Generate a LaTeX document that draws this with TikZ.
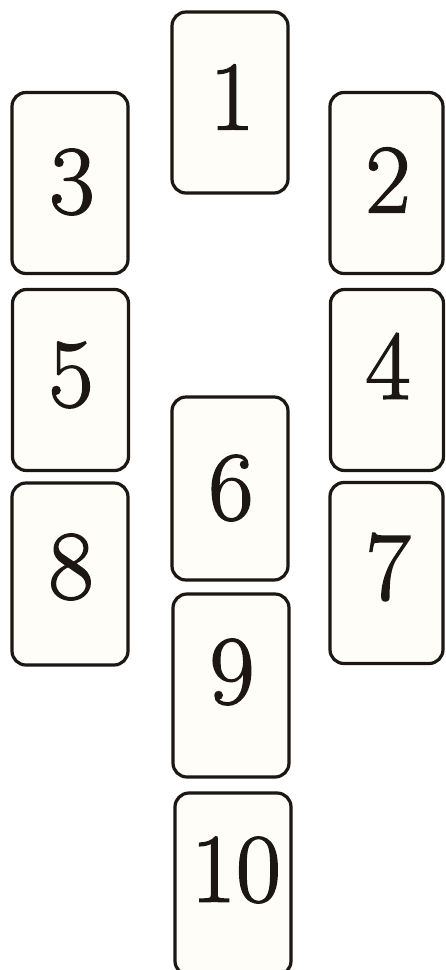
\documentclass[tikz,border=0pt]{standalone}
\usepackage{tikz}
\usepackage{fontspec}
\newfontfamily\cardnum[FakeBold=1.6]{Latin Modern Roman}

\definecolor{cardline}{HTML}{1C1712}
\definecolor{cardfill}{HTML}{FFFDF7}

\tikzset{
  card/.style={draw=cardline, fill=cardfill, line width=3.2pt,
    rounded corners=14pt, inner sep=0pt,
    minimum width=116pt, minimum height=181pt},
  num/.style={font=\cardnum\fontsize{98}{98}\selectfont, text=cardline,
    inner sep=0pt}
}

\begin{document}
\begin{tikzpicture}[x=1pt, y=-1pt]

        % Page
        \useasboundingbox (0,0) rectangle (445,970);
        \clip (0,0) rectangle (445,970);
        \fill[white] (0,0) rectangle (445,970);

        % Top card
        \node[card] (c1) at (230,102.5) {};
        \node[num] (n1) at (232,97) {1};

        % Upper row
        \node[card] (c3) at (70,183) {};
        \node[num] (n3) at (72,182) {3};
        \node[card, minimum width=113pt] (c2) at (386.5,183) {};
        \node[num] (n2) at (388,180) {2};

        % Middle row
        \node[card] (c5) at (70.5,380) {};
        \node[num] (n5) at (71,375) {5};
        \node[card, minimum width=113pt] (c4) at (387,380) {};
        \node[num] (n4) at (388,366) {4};

        % Centre column
        \node[card, minimum height=183pt] (c6) at (230,488.5) {};
        \node[num] (n6) at (231,488) {6};

        % Lower row
        \node[card, minimum height=182pt] (c8) at (70,574) {};
        \node[num] (n8) at (71,567) {8};
        \node[card, minimum width=113pt] (c7) at (386.5,573) {};
        \node[num] (n7) at (388,567) {7};

        % Bottom of centre column
        \node[card, minimum height=183pt] (c9) at (231,685.5) {};
        \node[num] (n9) at (232,672) {9};
        \node[card, minimum height=182pt] (c10) at (233,884) {};
        \node[num] (n10) at (236,870) {10};

\end{tikzpicture}
\end{document}
